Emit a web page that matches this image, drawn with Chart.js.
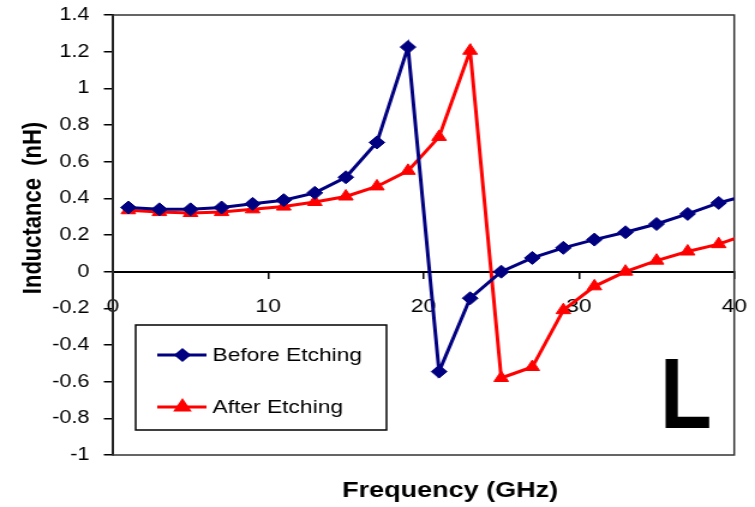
<!DOCTYPE html>
<html>
<head>
<meta charset="utf-8">
<script src="https://cdn.jsdelivr.net/npm/chart.js@4/dist/chart.umd.min.js"></script>
<style>
    body { margin: 0; background: #fff; }
    #contenedor { width: 755px; height: 507px; }
</style>
</head>
<body>
<div id="contenedor">
    <canvas id="grafica" width="629" height="507" style="width:755px;height:507px"></canvas>
</div>
<script>
// 🔹 Datos
const frecuencias = [1, 3, 5, 7, 9, 11, 13, 15, 17, 19, 21, 23, 25, 27, 29, 31, 33, 35, 37, 39, 41];
const antesGrabado = [0.35, 0.34, 0.34, 0.35, 0.37, 0.39, 0.43, 0.515, 0.705, 1.225, -0.545, -0.145, 0.0, 0.075, 0.13, 0.175, 0.215, 0.26, 0.315, 0.375, 0.42];
const despuesGrabado = [0.335, 0.325, 0.32, 0.325, 0.34, 0.355, 0.38, 0.41, 0.465, 0.55, 0.735, 1.205, -0.58, -0.52, -0.21, -0.08, 0.0, 0.06, 0.11, 0.15, 0.21];
const nombresSeries = ['Before Etching', 'After Etching'];
const tituloX = 'Frequency (GHz)';
const tituloY = 'Inductance  (nH)';
const etiquetaPanel = 'L';

const fuente = '"Liberation Sans", Arial, sans-serif';

function puntos(valores) {
    return frecuencias.map((f, i) => ({ x: f, y: valores[i] }));
}

// 🔹 Marco, títulos, leyenda y letra del panel
const extras = {
    id: 'extras',
    beforeDatasetsDraw(chart) {
        const { ctx, chartArea: a } = chart;
        ctx.save();
        ctx.strokeStyle = '#333';
        ctx.lineWidth = 1.5;
        ctx.strokeRect(a.left, a.top, a.right - a.left, a.bottom - a.top);
        ctx.restore();
    },
    afterDraw(chart) {
        const { ctx } = chart;
        ctx.save();
        ctx.fillStyle = '#000';

        // título eje Y
        ctx.save();
        ctx.translate(28, 208);
        ctx.rotate(-Math.PI / 2);
        ctx.font = 'bold 22px ' + fuente;
        ctx.textAlign = 'center';
        ctx.textBaseline = 'middle';
        ctx.fillText(tituloY, 0, 0);
        ctx.restore();

        // título eje X
        ctx.font = 'bold 22.5px ' + fuente;
        ctx.textAlign = 'center';
        ctx.textBaseline = 'middle';
        ctx.fillText(tituloX, 375, 491);

        // leyenda
        ctx.fillStyle = '#fff';
        ctx.fillRect(113, 325, 209, 105);
        ctx.strokeStyle = '#000';
        ctx.lineWidth = 1.5;
        ctx.strokeRect(113, 325, 209, 105);
        const filas = [355, 407];
        chart.data.datasets.forEach((ds, i) => {
            const y = filas[i];
            ctx.strokeStyle = ds.borderColor;
            ctx.lineWidth = 3;
            ctx.beginPath();
            ctx.moveTo(131, y);
            ctx.lineTo(172, y);
            ctx.stroke();
            ctx.fillStyle = ds.borderColor;
            Chart.helpers.drawPoint(ctx, {
                pointStyle: ds.pointStyle,
                radius: ds.pointStyle === 'triangle' ? 6 : 5,
                borderWidth: 1,
                rotation: 0
            }, 152, y);
            ctx.fill();
            ctx.fillStyle = '#000';
            ctx.font = '19px ' + fuente;
            ctx.textAlign = 'left';
            ctx.textBaseline = 'middle';
            ctx.fillText(ds.label, 177, y + 1);
        });

        // letra del panel
        ctx.save();
        ctx.translate(555, 428);
        ctx.scale(0.708, 1);
        ctx.font = 'bold 100px ' + fuente;
        ctx.textAlign = 'left';
        ctx.textBaseline = 'alphabetic';
        ctx.fillStyle = '#000';
        ctx.fillText(etiquetaPanel, -7.3, 0);
        ctx.restore();

        ctx.restore();
    }
};

const ctx = document.getElementById('grafica').getContext('2d');

new Chart(ctx, {
    type: 'line',
    data: {
        datasets: [
            {
                label: nombresSeries[0],
                data: puntos(antesGrabado),
                borderColor: '#000080',
                backgroundColor: '#000080',
                borderWidth: 3,
                pointStyle: 'rectRot',
                pointRadius: 6.5,
                pointBorderWidth: 1,
                tension: 0
            },
            {
                label: nombresSeries[1],
                data: puntos(despuesGrabado),
                borderColor: '#ff0000',
                backgroundColor: '#ff0000',
                borderWidth: 3,
                pointStyle: 'triangle',
                pointRadius: 7,
                pointBorderWidth: 1,
                tension: 0
            }
        ]
    },
    options: {
        responsive: false,
        animation: false,
        layout: {
            padding: { top: 15, right: 17.3, bottom: 52, left: 0 }
        },
        plugins: {
            legend: { display: false },
            tooltip: { enabled: false }
        },
        scales: {
            x: {
                type: 'linear',
                position: { y: 0 },
                min: 0,
                max: 40,
                afterFit: (scale) => { scale.paddingLeft = 0; scale.paddingRight = 0; },
                ticks: {
                    stepSize: 10,
                    color: '#000',
                    font: { family: fuente, size: 19 },
                    padding: 18
                },
                grid: {
                    drawOnChartArea: false,
                    color: '#000',
                    lineWidth: 1.5,
                    tickLength: 6
                },
                border: { color: '#000', width: 2 }
            },
            y: {
                position: 'left',
                min: -1,
                max: 1.4,
                afterFit: (scale) => {
                    scale.width = 94;
                    scale.paddingTop = 0;
                    scale.paddingBottom = 0;
                },
                ticks: {
                    stepSize: 0.2,
                    color: '#000',
                    font: { family: fuente, size: 18 },
                    padding: 12,
                    callback: (v) => parseFloat(v.toFixed(1)).toString()
                },
                grid: {
                    drawOnChartArea: false,
                    color: '#000',
                    lineWidth: 1.5,
                    tickLength: 7.5
                },
                border: { color: '#000', width: 2 }
            }
        }
    },
    plugins: [extras]
});
</script>
</body>
</html>
